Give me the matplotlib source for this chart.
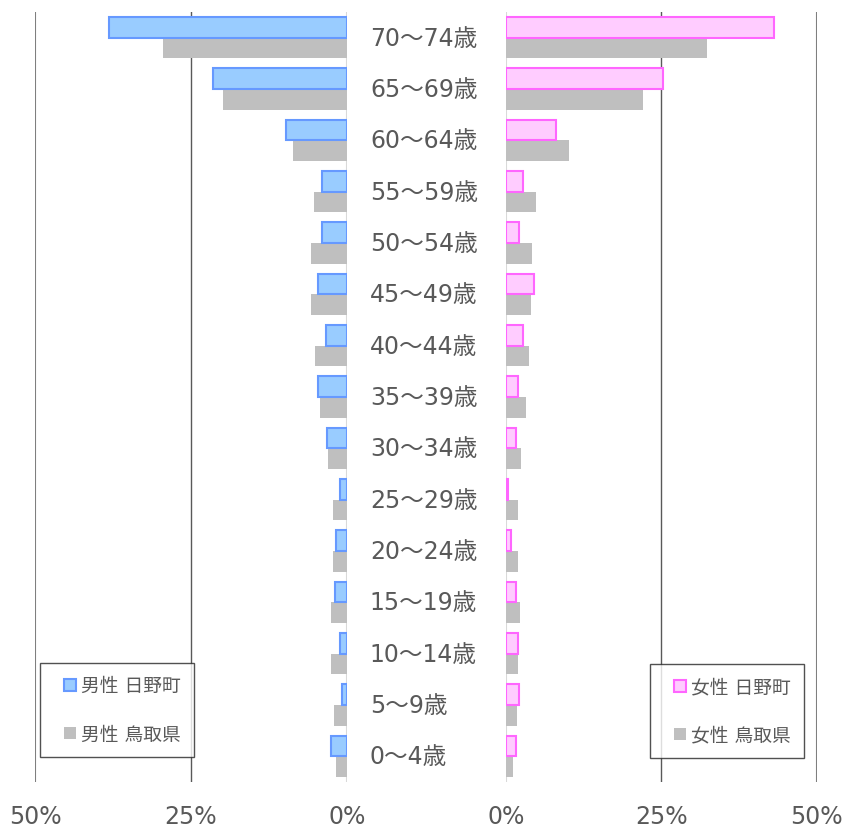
import numpy as np
import matplotlib.pyplot as plt
from matplotlib.lines import Line2D

plt.rcParams['font.family'] = ['DejaVu Sans', 'Noto Sans CJK JP']

ages = ["0～4歳", "5～9歳", "10～14歳", "15～19歳", "20～24歳", "25～29歳", "30～34歳",
        "35～39歳", "40～44歳", "45～49歳", "50～54歳", "55～59歳", "60～64歳", "65～69歳", "70～74歳"]

# percent values, from 0-4 up to 70-74
male_hino = [2.6, 0.8, 1.2, 2.0, 1.8, 1.2, 3.2, 4.6, 3.4, 4.6, 4.0, 4.0, 9.8, 21.5, 38.1]
male_tottori = [1.7, 2.1, 2.5, 2.5, 2.3, 2.3, 3.1, 4.3, 5.1, 5.8, 5.8, 5.3, 8.6, 19.9, 29.5]
female_hino = [1.6, 2.2, 2.0, 1.6, 0.9, 0.3, 1.6, 2.0, 2.8, 4.6, 2.2, 2.8, 8.1, 25.3, 43.2]
female_tottori = [1.2, 1.8, 2.0, 2.25, 2.0, 2.0, 2.5, 3.3, 3.7, 4.1, 4.3, 4.8, 10.1, 22.0, 32.4]

text_col = "#595959"
y = np.arange(len(ages))
h = 0.4

fig = plt.figure(figsize=(8.45, 8.29), dpi=100)
axL = fig.add_axes([35 / 845, 1 - 783 / 829, 312 / 845, 770 / 829])
axR = fig.add_axes([505.7 / 845, 1 - 783 / 829, 311 / 845, 770 / 829])

axL.barh(y + h / 2, male_hino, height=h, color="#99ccff", edgecolor="#6699ff", linewidth=1.5, zorder=3)
axL.barh(y - h / 2, male_tottori, height=h, color="#bfbfbf", linewidth=0, zorder=2)
axR.barh(y + h / 2, female_hino, height=h, color="#ffccff", edgecolor="#ff66ff", linewidth=1.5, zorder=3)
axR.barh(y - h / 2, female_tottori, height=h, color="#bfbfbf", linewidth=0, zorder=2)

axL.set_xlim(50, 0)
axR.set_xlim(0, 50)
for ax in (axL, axR):
    ax.set_ylim(-0.5, len(ages) - 0.5)
    ax.set_yticks([])
    ax.set_xticks([0, 25, 50])
    ax.set_xticklabels(["0%", "25%", "50%"])
    ax.tick_params(axis="x", length=0, pad=16, labelsize=17, labelcolor=text_col)
    for s in ax.spines.values():
        s.set_visible(False)
    ax.axvline(25, color="#595959", linewidth=1, zorder=1)
    ax.axvline(50, color="#7f7f7f", linewidth=1.5, zorder=1)
    ax.axvline(0, color="#d9d9d9", linewidth=1.5, zorder=1)

for i, lab in enumerate(ages):
    axL.annotate(lab, xy=(0, i), xycoords="data", xytext=(16.5, 0), textcoords="offset points",
                 ha="left", va="center", fontsize=17, color=text_col)


def make_legend(ax, labels, face, edge, loc, anchor):
    handles = [
        Line2D([], [], linestyle="", marker="s", markersize=8, markerfacecolor=face,
               markeredgecolor=edge, markeredgewidth=1.5),
        Line2D([], [], linestyle="", marker="s", markersize=8, markerfacecolor="#bfbfbf",
               markeredgewidth=0),
    ]
    leg = ax.legend(handles, labels, loc=loc, bbox_to_anchor=anchor, borderaxespad=0,
                    fontsize=13.5, frameon=True, fancybox=False, handlelength=1.8,
                    labelspacing=1.58, borderpad=0.71, handletextpad=-0.32,
                    labelcolor=text_col)
    leg.get_frame().set_edgecolor("#262626")
    leg.get_frame().set_linewidth(1)


make_legend(axL, ["男性 日野町", "男性 鳥取県"], "#99ccff", "#6699ff",
            "lower left", (5 / 312, 25 / 770))
make_legend(axR, ["女性 日野町", "女性 鳥取県"], "#ffccff", "#ff66ff",
            "lower right", (1 - 13 / 311, 24 / 770))

fig.savefig("out.png", dpi=100)
